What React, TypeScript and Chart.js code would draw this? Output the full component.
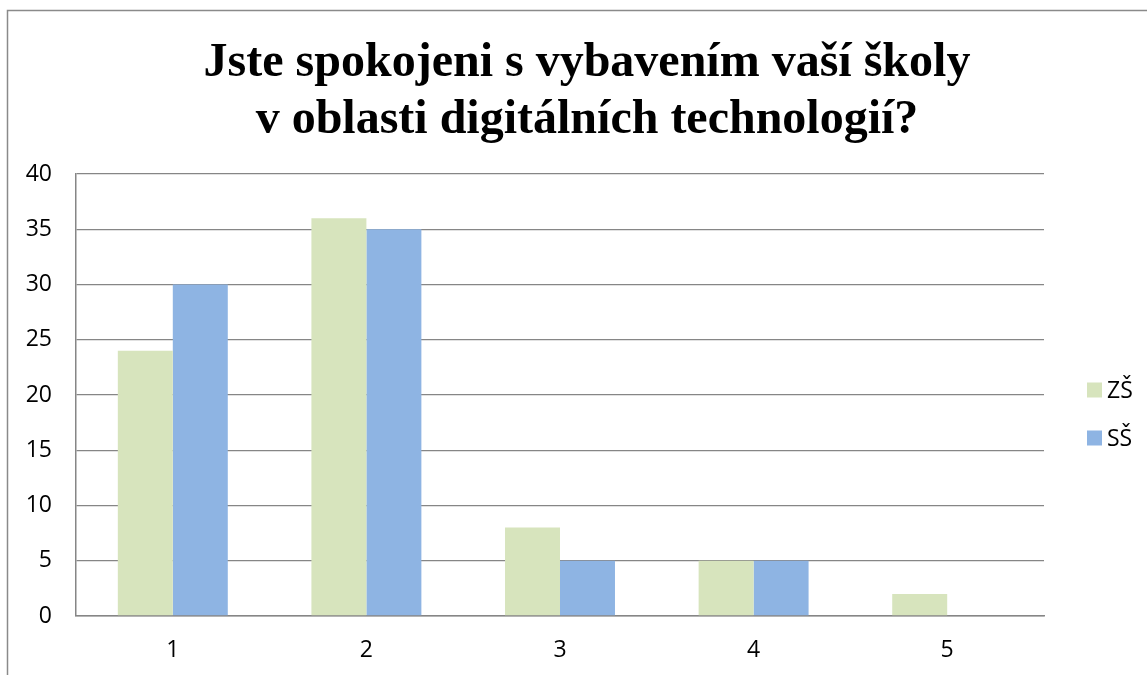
import React, { useEffect, useRef } from "react";
import { Chart, registerables } from "chart.js";

Chart.register(...registerables);

const categories = ["1", "2", "3", "4", "5"];
const seriesNames = ["ZŠ", "SŠ"];
const zsValues = [24, 36, 8, 5, 2];
const ssValues = [30, 35, 5, 5, 0];
const seriesColors = ["#d7e4bd", "#8eb4e3"];
const yMin = 0;
const yMax = 40;
const yStep = 5;
const titleLines = [
  "Jste spokojeni s vybavením vaší školy",
  "v oblasti digitálních technologií?",
];

const W = 1147;
const H = 675;
const tickFont = { family: "'Open Sans', 'Liberation Sans', sans-serif", size: 23 };

const framePlugin = {
  id: "frame",
  beforeDraw(chart: any) {
    const ctx = chart.ctx;
    ctx.save();
    ctx.fillStyle = "#ffffff";
    ctx.fillRect(0, 0, chart.width, chart.height);
    ctx.strokeStyle = "#8a8a8a";
    ctx.lineWidth = 1.5;
    ctx.beginPath();
    ctx.moveTo(7.5, chart.height + 2);
    ctx.lineTo(7.5, 10.5);
    ctx.lineTo(chart.width + 2, 10.5);
    ctx.stroke();
    ctx.restore();
  },
  afterDraw(chart: any) {
    const ctx = chart.ctx;
    ctx.save();
    // title
    ctx.fillStyle = "#000000";
    ctx.font = "bold 48px 'Liberation Serif', 'Times New Roman', serif";
    ctx.textAlign = "center";
    ctx.textBaseline = "alphabetic";
    titleLines.forEach((line, i) => {
      ctx.fillText(line, 587, 76 + i * 57);
    });
    // legend
    ctx.font = `${tickFont.size}px ${tickFont.family}`;
    ctx.textAlign = "left";
    ctx.textBaseline = "middle";
    chart.data.datasets.forEach((ds: any, i: number) => {
      const cy = 390 + i * 48;
      ctx.fillStyle = ds.backgroundColor;
      ctx.fillRect(1087, cy - 7.5, 15, 15);
      ctx.fillStyle = "#000000";
      ctx.fillText(ds.label, 1107, cy + 1);
    });
    ctx.restore();
  },
};

export default function App() {
  const ref = useRef<HTMLCanvasElement | null>(null);

  useEffect(() => {
    if (!ref.current) return;
    const chart = new Chart(ref.current, {
      type: "bar",
      data: {
        labels: categories,
        datasets: [
          {
            label: seriesNames[0],
            data: zsValues,
            backgroundColor: seriesColors[0],
            borderWidth: 0,
          },
          {
            label: seriesNames[1],
            data: ssValues,
            backgroundColor: seriesColors[1],
            borderWidth: 0,
          },
        ],
      },
      options: {
        responsive: false,
        animation: false,
        layout: { padding: { left: 0, top: 174, right: W - 1044, bottom: 0 } },
        plugins: {
          legend: { display: false },
          title: { display: false },
          tooltip: { enabled: false },
        },
        datasets: {
          bar: { categoryPercentage: 0.568, barPercentage: 1 },
        },
        scales: {
          x: {
            grid: { display: false, drawTicks: false },
            border: { display: true, color: "#868686", width: 1.5 },
            ticks: { color: "#000", font: tickFont, padding: 21 },
            afterFit(scale: any) {
              scale.height = H - 616;
            },
          },
          y: {
            min: yMin,
            max: yMax,
            grid: { color: "#868686", lineWidth: 1.3, drawTicks: false },
            border: { display: true, color: "#868686", width: 1.5 },
            ticks: { stepSize: yStep, color: "#000", font: tickFont, padding: 24 },
            afterFit(scale: any) {
              scale.width = 76;
            },
          },
        },
      },
      plugins: [framePlugin],
    });
    return () => chart.destroy();
  }, []);

  return (
    <canvas
      ref={ref}
      width={W}
      height={H}
      style={{ position: "fixed", left: 0, top: 0, display: "block", width: W, height: H }}
    />
  );
}
